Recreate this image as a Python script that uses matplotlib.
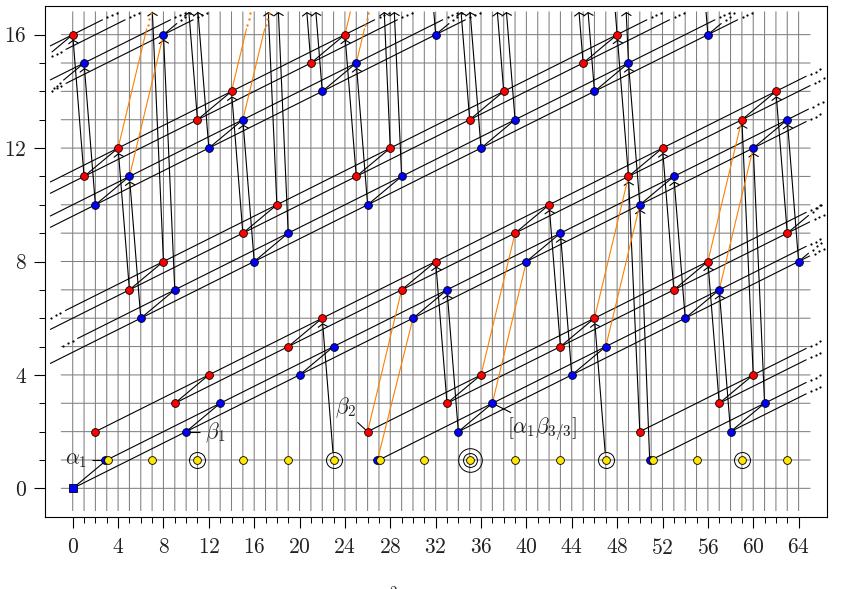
import numpy as np
import matplotlib
matplotlib.use("Agg")
import matplotlib.pyplot as plt
from matplotlib.ticker import FixedLocator, FixedFormatter

plt.rcParams['mathtext.fontset'] = 'cm'
plt.rcParams['font.family'] = ['cmr10', 'DejaVu Sans']
plt.rcParams['axes.formatter.use_mathtext'] = True

W, H = 845, 589

red_x = [0, 1, 2, 4, 5, 8, 9, 11, 12, 14, 15, 18, 19, 21, 22, 24, 25, 26, 28, 29, 32, 33, 35, 36, 38,
         39, 42, 43, 45, 46, 48, 49, 50, 52, 53, 56, 57, 59, 60, 62, 63]
red_y = [16, 11, 2, 12, 7, 8, 3, 13, 4, 14, 9, 10, 5, 15, 6, 16, 11, 2, 12, 7, 8, 3, 13, 4, 14,
         9, 10, 5, 15, 6, 16, 11, 2, 12, 7, 8, 3, 13, 4, 14, 9]
blue_x = [1, 2, 2.87, 5, 6, 8, 9, 10, 12, 13, 15, 16, 19, 20, 22, 23, 25, 26, 26.87, 29, 30, 32, 33, 34,
          36, 37, 39, 40, 43, 44, 46, 47, 49, 50, 50.87, 53, 54, 56, 57, 58, 60, 61, 63, 64]
blue_y = [15, 10, 1, 11, 6, 16, 7, 2, 12, 3, 13, 8, 9, 4, 14, 5, 15, 10, 1, 11, 6, 16, 7, 2,
          12, 3, 13, 8, 9, 4, 14, 5, 15, 10, 1, 11, 6, 16, 7, 2, 12, 3, 13, 8]
yellow_x = [3.13, 7, 11, 15, 19, 23, 27.13, 31, 35, 39, 43, 47, 51.13, 55, 59, 63]
yellow_y = [1] * 16
ring1_x = [11, 23, 47, 59]
ring2_x = [35]

# long lines, slope 1/5: through (x, y), solid from x_a to x_b, dots where flagged
long_x = [0, 3, 2, 9, 27, 34, 26, 33, 51, 58, 50, 57, 5, 8, 6, 9, 1, 4, 2, 5, 0, 1, -3, -2]
long_y = [0, 1, 2, 3, 1, 2, 2, 3, 1, 2, 2, 3, 7, 8, 6, 7, 11, 12, 10, 11, 16, 15, 15, 14]
long_a = [0, 3, 2, 9, 27, 34, 26, 33, 51, 58, 50, 57, -2, -0.67, -2, 0.4, -2, -2, -2, -2, -2, -2, -0.62, -0.62]
long_b = [64.7, 64.9, 64.7, 65.05, 64.7, 65, 64.7, 65, 64.7, 64.7, 64.7, 64.7,
          52.65, 50.65, 58.65, 56.65, 28.65, 26.65, 34.65, 32.65, 2.65, 8.65, 4.65, 10.65]
long_dots_left = [0] * 13 + [1, 0, 1] + [0] * 6 + [1, 1]

# short edges, slope 1/3, drawn as x0..x1 with the line's own y
short_x = [0, 10, 20, 30, 40, 50, 60, 34, 44, 54, 64, 58, 6, 16, 26, 36, 46, 56, 2, 12, 22, 32, 8,
           9, 19, 29, 39, 49, 59, 33, 43, 53, 63, 57, 5, 15, 25, 35, 45, 1, 11, 21]
short_y = [0, 2, 4, 6, 8, 10, 12, 2, 4, 6, 8, 2, 6, 8, 10, 12, 14, 16, 10, 12, 14, 16, 16,
           3, 5, 7, 9, 11, 13, 3, 5, 7, 9, 3, 7, 9, 11, 13, 15, 11, 13, 15]
short_cut = {(56, 16): 57.2, (32, 16): 33.2, (8, 16): 9.2, (64, 8): 64.9, (63, 9): 64.9}
short_left_x = [0, 1]
short_left_y = [16, 15]
short_left_to = [-1.85, -0.83]

# d5 and d9 arrows, black: source and target
arrow_x0 = [1, 2, 5, 6, 9, 8, 11, 12, 15, 16, 18, 19, 21, 22, 25, 26, 28, 29, 35, 36, 38, 39,
            45, 46, 49, 50, 23, 34, 33, 43, 44, 47, 53, 54, 57, 58, 50, 50.87, 60, 61, 63, 64, 49]
arrow_y0 = [11, 10, 7, 6, 7, 8, 13, 12, 9, 8, 10, 9, 15, 14, 11, 10, 12, 11, 13, 12, 14, 13,
            15, 14, 11, 10, 1, 2, 3, 5, 4, 1, 7, 6, 3, 2, 2, 1, 4, 3, 9, 8, 15]
arrow_x1 = [0, 1, 4, 5, 8, 7, 10, 11, 14, 15, 17, 18, 20, 21, 24, 25, 27, 28, 34, 35, 37, 38,
            44, 45, 48, 49, 22, 33, 32, 42, 43, 46, 52, 53, 56, 57, 49, 50, 59, 60, 62, 63, 48]
arrow_y1 = [16, 15, 12, 11, 16, 17, 18, 17, 14, 13, 19, 18, 20, 19, 16, 15, 21, 20, 18, 17, 19, 18,
            20, 19, 16, 15, 6, 7, 8, 10, 9, 6, 12, 11, 8, 7, 11, 10, 13, 12, 14, 13, 24]
# same without a head, leaving the top of the chart
plain_x = [32, 48, 56]
plain_y = [16, 16, 16]

orange_x0 = [26, 26.87, 36, 37, 46, 47, 56, 57, 4, 5, 14, 15, 24, 25]
orange_y0 = [2, 1, 4, 3, 6, 5, 8, 7, 12, 11, 14, 13, 16, 15]
orange_x1 = [29, 30, 39, 40, 49, 50, 59, 60, 7, 8, 17, 18, 27, 28]
orange_y1 = [7, 6, 9, 8, 11, 10, 13, 12, 17, 16, 19, 18, 21, 20]

x_major = list(range(0, 65, 4))
y_major = [0, 4, 8, 12, 16]

fig = plt.figure(figsize=(W / 100, H / 100), dpi=100)
ax = fig.add_axes([44.7 / W, 1 - 516.7 / H, (827.3 - 44.7) / W, (516.7 - 6.3) / H])
ax.set_xlim(-2.47, 66.53)
ax.set_ylim(-1.0, 17.0)

grid_kw = dict(color='#808080', lw=0.75, zorder=1, snap=False)
for gx in range(0, 65):
    ax.plot([gx, gx], [-0.78, 16.8], **grid_kw)
for gy in range(0, 17):
    ax.plot([-1, 65], [gy, gy], **grid_kw)

line_kw = dict(color='black', lw=0.8, zorder=3, solid_capstyle='butt')
dot_kw = dict(ls='none', marker='o', ms=1.6, mew=0, color='black', zorder=3)
steps = np.array([0.41, 0.79, 1.23])

for x, y, a, b, dl in zip(long_x, long_y, long_a, long_b, long_dots_left):
    ax.plot([a, b], [y + 0.2 * (a - x), y + 0.2 * (b - x)], **line_kw)
    ax.plot(b + steps, y + 0.2 * (b + steps - x), **dot_kw)
    if dl:
        ax.plot(a - steps, y + 0.2 * (a - steps - x), **dot_kw)

for x, y in zip(short_x, short_y):
    end = short_cut.get((x, y), x + 3)
    ax.plot([x, end], [y, y + (end - x) / 3], **line_kw)
    if end != x + 3:
        ax.plot(end + steps * 0.9, y + (end + steps * 0.9 - x) / 3, **dot_kw)

for x, y, to in zip(short_left_x, short_left_y, short_left_to):
    ax.plot([x, to], [y, y + (to - x) / 3], **line_kw)
ax.plot(-0.83 - steps * 0.7, 15 + (-0.83 - steps * 0.7 - 1) / 3, **dot_kw)


def clip_top(x0, y0, x1, y1, top):
    return x0 + (x1 - x0) * (top - y0) / (y1 - y0), top


for x0, y0, x1, y1 in zip(arrow_x0, arrow_y0, arrow_x1, arrow_y1):
    over = y1 > 16.8
    tx, ty = clip_top(x0, y0, x1, y1, 16.8) if over else (x1, y1)
    ring_src = y0 == 1 and x0 in (23, 47)
    ax.annotate('', xy=(tx, ty), xytext=(x0, y0), zorder=3, annotation_clip=False,
                arrowprops=dict(arrowstyle='->,head_length=0.22,head_width=0.34', color='black', lw=0.8,
                                mutation_scale=10, shrinkA=5.8 if ring_src else 0,
                                shrinkB=0 if over else 3.6))

for x, y in zip(plain_x, plain_y):
    tx, ty = clip_top(x, y, x - 1, y + 5, 16.8)
    ax.plot([x, tx], [y, ty], **line_kw)

for x0, y0, x1, y1 in zip(orange_x0, orange_y0, orange_x1, orange_y1):
    if y1 <= 16.8:
        ax.plot([x0, x1], [y0, y1], color='#ff8000', lw=0.8, zorder=3)
    elif y0 == 16:
        tx, ty = clip_top(x0, y0, x1, y1, 16.8)
        ax.plot([x0, tx], [y0, ty], color='#ff8000', lw=0.8, zorder=3)
    else:
        tx, ty = clip_top(x0, y0, x1, y1, 16.2)
        ax.plot([x0, tx], [y0, ty], color='#ff8000', lw=0.8, zorder=3)
        ys = np.array([16.35, 16.55, 16.78])
        ax.plot(x0 + (x1 - x0) * (ys - y0) / (y1 - y0), ys, ls='none', marker='o', ms=1.7, mew=0,
                color='#ff8000', zorder=3)

mark_kw = dict(ls='none', ms=5.6, mec='black', mew=0.6, zorder=5)
ax.plot(blue_x, blue_y, marker='o', mfc='#0000ff', **mark_kw)
ax.plot(red_x, red_y, marker='o', mfc='#ff0000', **mark_kw)
ax.plot(yellow_x, yellow_y, marker='o', mfc='#ffe600', **mark_kw)
ax.plot([0], [0], marker='s', mfc='#0000ff', **mark_kw)
for rx in ring1_x:
    ax.plot([rx], [1], marker='o', ms=11.5, mfc='none', mec='black', mew=0.7, ls='none', zorder=4)
for rx in ring2_x:
    ax.plot([rx], [1], marker='o', ms=10, mfc='none', mec='black', mew=0.7, ls='none', zorder=4)
    ax.plot([rx], [1], marker='o', ms=17, mfc='none', mec='black', mew=0.7, ls='none', zorder=4)

# labels and their pointers
ax.plot([1.66, 2.87], [1, 1], **line_kw)
ax.plot([10, 11.2], [2, 2], **line_kw)
ax.plot([25.1, 26], [2.33, 2], **line_kw)
ax.plot([37, 38.65], [3, 2.67], **line_kw)
label_kw = dict(fontsize=15.5, color='#222222', zorder=6)
ax.text(1.28, 1, r'$\alpha_1$', ha='right', va='center', **label_kw)
ax.text(11.65, 1.97, r'$\beta_1$', ha='left', va='center', **label_kw)
ax.text(25.0, 2.85, r'$\beta_2$', ha='right', va='center', **label_kw)
ax.text(38.3, 2.1, r'$[\alpha_1\beta_{3/3}]$', ha='left', va='center', **label_kw)

# top of a superscript from the caption, cut by the lower edge
fig.text(393 / W, 1 - 597 / H, '$2$', fontsize=10.5, ha='center', va='baseline', color='#222222')

ax.xaxis.set_major_locator(FixedLocator(x_major))
ax.xaxis.set_major_formatter(FixedFormatter([f'${v}$' for v in x_major]))
ax.xaxis.set_minor_locator(FixedLocator(range(0, 65)))
ax.yaxis.set_major_locator(FixedLocator(y_major))
ax.yaxis.set_major_formatter(FixedFormatter([f'${v}$' for v in y_major]))
ax.yaxis.set_minor_locator(FixedLocator(range(0, 17)))
ax.tick_params(which='major', length=8, width=0.8, labelsize=15.5, labelcolor='#222222')
ax.tick_params(which='minor', length=4, width=0.7)
ax.tick_params(axis='x', which='major', pad=7)
ax.tick_params(axis='y', which='major', pad=5)
for sp in ax.spines.values():
    sp.set_linewidth(0.8)

fig.savefig('out.png', dpi=100)
